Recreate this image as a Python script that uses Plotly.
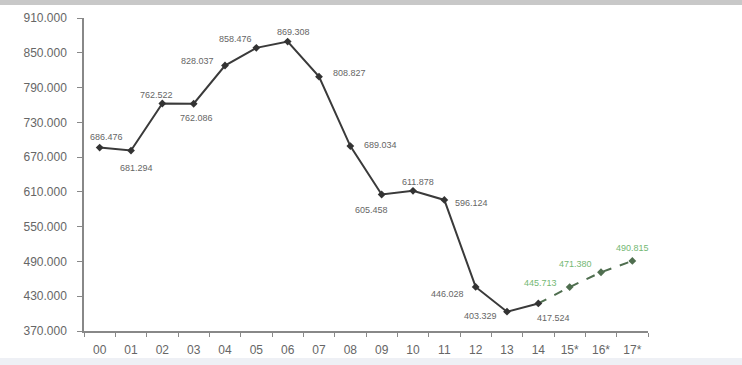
import plotly.graph_objects as go

categories = ["00", "01", "02", "03", "04", "05", "06", "07", "08", "09",
              "10", "11", "12", "13", "14", "15*", "16*", "17*"]
actual_cats = categories[:15]
actual_vals = [686476, 681294, 762522, 762086, 828037, 858476, 869308, 808827,
               689034, 605458, 611878, 596124, 446028, 403329, 417524]
forecast_cats = ["14", "15*", "16*", "17*"]
forecast_vals = [417524, 445713, 471380, 490815]

y_ticks = [370000, 430000, 490000, 550000, 610000, 670000, 730000, 790000, 850000, 910000]

# label offsets (px) for each actual point, then forecast points
actual_offsets = [(7, 11), (5, -17), (-6, 8), (3, -14), (-28, 5), (-21, 9), (6, 10),
                  (30, 4), (30, 1), (-10, -15), (5, 9), (27, -3), (-28, -7), (-27, -4), (15, -15)]
forecast_offsets = [(-29, 4), (-26, 8), (0, 13)]


def fmt(v):
    return f"{v:,}".replace(",", ".")


fig = go.Figure()
fig.add_trace(go.Scatter(
    x=forecast_cats, y=forecast_vals, mode="lines",
    line=dict(color="#4f6e4f", width=2, dash="dash"), hoverinfo="skip", showlegend=False))
fig.add_trace(go.Scatter(
    x=forecast_cats[1:], y=forecast_vals[1:], mode="markers",
    marker=dict(symbol="diamond", size=6, color="#4f6e4f"), showlegend=False))
fig.add_trace(go.Scatter(
    x=actual_cats, y=actual_vals, mode="lines+markers",
    line=dict(color="#3a3a3a", width=2),
    marker=dict(symbol="diamond", size=6, color="#333333"), showlegend=False))

annotations = []
for c, v, (dx, dy) in zip(actual_cats, actual_vals, actual_offsets):
    annotations.append(dict(x=c, y=v, text=fmt(v), showarrow=False, xshift=dx, yshift=dy,
                            font=dict(size=9, color="#666666", family="Liberation Sans, Arial")))
for c, v, (dx, dy) in zip(forecast_cats[1:], forecast_vals[1:], forecast_offsets):
    annotations.append(dict(x=c, y=v, text=fmt(v), showarrow=False, xshift=dx, yshift=dy,
                            font=dict(size=9, color="#74b874", family="Liberation Sans, Arial")))

fig.update_layout(
    width=742, height=365,
    margin=dict(l=84, r=94, t=18, b=34),
    paper_bgcolor="white", plot_bgcolor="white",
    separators=",.",
    font=dict(family="Liberation Sans, Arial", color="#666666", size=11),
    annotations=annotations,
    shapes=[
        dict(type="rect", xref="paper", yref="paper", x0=-0.2, x1=1.3,
             y0=1 + 13 / 313, y1=1 + 18 / 313, fillcolor="#c8c8c8", line=dict(width=0), layer="below"),
        dict(type="rect", xref="paper", yref="paper", x0=-0.2, x1=1.3,
             y0=-34 / 313, y1=-27 / 313, fillcolor="#eef0f5", line=dict(width=0), layer="below"),
    ],
)
fig.update_xaxes(
    type="category", categoryorder="array", categoryarray=categories,
    range=[-0.5, 17.5], tickson="boundaries", ticks="outside", ticklen=4,
    tickcolor="#888888", showline=True, linecolor="#888888", linewidth=1.5,
    showgrid=False, zeroline=False, ticklabelstandoff=7, automargin=False,
    tickfont=dict(size=12, color="#666666"))
fig.update_yaxes(
    range=[370000, 910000], tickvals=y_ticks, tickformat=",d",
    ticks="outside", ticklen=5, tickcolor="#888888", showline=True,
    linecolor="#888888", linewidth=1.5, showgrid=False, zeroline=False,
    ticklabelstandoff=8, automargin=False, tickfont=dict(size=12, color="#666666"))

fig.write_html("out.html")
